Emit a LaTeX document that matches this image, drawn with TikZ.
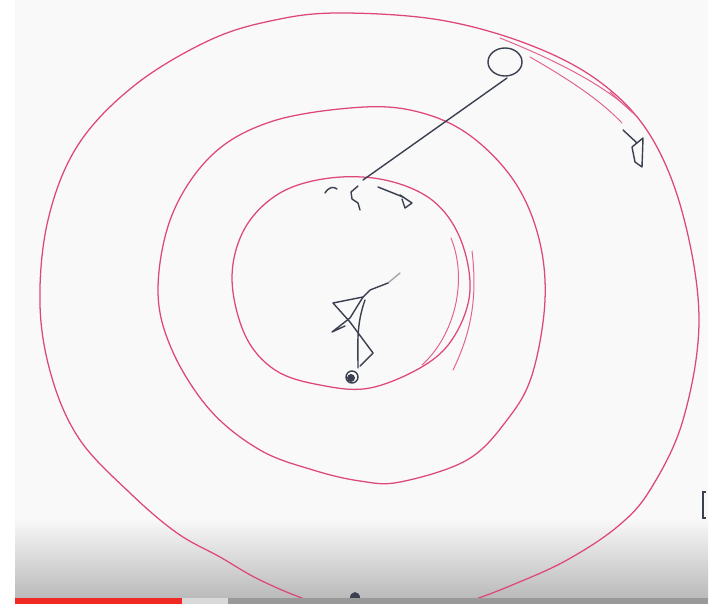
\documentclass[tikz,border=0pt]{standalone}
\usepackage{xcolor}
\usepackage{tikz}
\usetikzlibrary{backgrounds}

\definecolor{contourred}{RGB}{222,72,120}
\definecolor{penink}{RGB}{58,64,80}
\definecolor{screenbg}{RGB}{249,249,249}
\definecolor{barred}{RGB}{240,40,36}

\begin{document}
\begin{tikzpicture}[
  x=0.025cm, y=-0.025cm,
  contour/.style={draw=contourred, line width=0.9pt, line cap=round, line join=round},
  extra/.style={draw=contourred!85, line width=0.7pt, line cap=round},
  ink/.style={draw=penink, line width=1pt, line cap=round, line join=round},
]
\useasboundingbox (0,0) rectangle (720,604);

% Screen and player overlay
\fill[white] (0,0) rectangle (720,604);
\fill[screenbg] (15,0) rectangle (708,604);
\shade[top color=screenbg, bottom color=black!27] (15,518) rectangle (708,598);

\begin{scope}
\clip (15,0) rectangle (708,598);

% Contours: outer, middle, inner
\draw[contour] plot[smooth cycle, tension=0.6] coordinates {
  (340,13) (440,20) (530,45) (600,82) (650,135) (683,215) (699,320)
  (683,420) (650,490) (617,527) (567,560) (517,583) (467,602) (390,625)
  (313,602) (260,580) (220,557) (177,533) (130,493) (80,440) (52,378)
  (40,305) (48,220) (78,145) (135,85) (210,40) (275,20)};

\draw[contour] plot[smooth cycle, tension=0.6] coordinates {
  (270,122) (350,108) (410,110) (465,132) (512,178) (538,235) (545,300)
  (532,375) (507,420) (467,460) (400,482) (360,481) (313,470) (260,450)
  (210,410) (172,350) (158,290) (172,215) (212,155)};

\draw[contour] plot[smooth cycle, tension=0.6] coordinates {
  (330,178) (385,180) (432,200) (460,238) (470,290) (455,335) (425,365)
  (370,388) (320,385) (275,370) (245,335) (232,278) (245,228) (280,193)};

% Extra strokes
\draw[extra] (500,38) .. controls (560,62) and (610,88) .. (637,117);
\draw[extra] (530,57) .. controls (570,80) and (600,100) .. (622,123);
\draw[extra] (610,92) -- (633,113);
\draw[extra] (451,238) .. controls (468,280) and (455,335) .. (422,365);
\draw[extra] (472,251) .. controls (478,300) and (470,335) .. (453,370);
\end{scope}

% Descent paths
\draw[ink] (505,62) ellipse (17 and 14);
\draw[ink] (507,78) -- (363,180);
\draw[ink] (325,193) .. controls (329,187) and (333,186) .. (337,189);
\draw[ink] (358,186) -- (351,192) -- (352,199) -- (358,203) -- (360,210);
\draw[ink] (378,187) -- (403,197);
\draw[ink] (400,195) -- (412,203) -- (405,208) -- (402,199);
\draw[ink] (623,130) -- (637,143);
\draw[ink] (632,147) -- (643,138) -- (642,167) -- (635,162) -- (632,147);

\draw[ink, draw=black!35] (400,273) -- (388,283);
\draw[ink] (388,283) -- (370,290) -- (363,297) -- (333,303) -- (350,322)
  -- (373,353) -- (360,366);
\draw[ink] (363,297) -- (350,318) -- (332,332) -- (345,326);
\draw[ink] (365,300) .. controls (356,325) and (358,345) .. (358,368);
\draw[ink] (352,377) circle (6);
\fill[penink] (351,378) circle (4);

% Bottom marks
\fill[penink] (355,598) ellipse (5 and 6);
\draw[penink, line width=1pt] (706,492) -- (703,492) -- (703,518) -- (706,518);

% Progress bar
\fill[barred] (15,598) rectangle (182,604);
\fill[black!15] (182,598) rectangle (228,604);
\fill[black!40] (228,598) rectangle (708,604);
\end{tikzpicture}
\end{document}
